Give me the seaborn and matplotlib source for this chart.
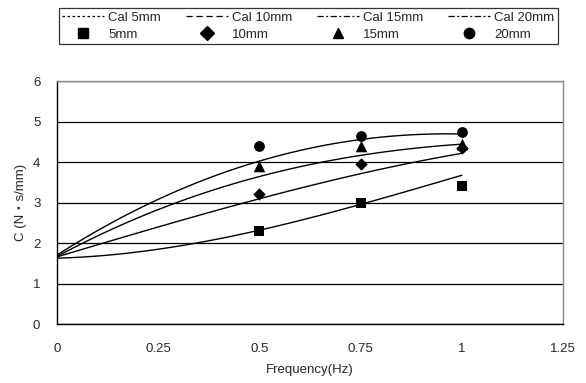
import matplotlib
matplotlib.use("Agg")
import matplotlib.pyplot as plt
from matplotlib.lines import Line2D
import seaborn as sns
import pandas as pd

# measured damping coefficient
freq = [0.5, 0.75, 1.0]
c_5mm = [2.3, 3.0, 3.4]
c_10mm = [3.2, 3.95, 4.35]
c_15mm = [3.9, 4.4, 4.45]
c_20mm = [4.4, 4.65, 4.75]

# calculated curves
cal_freq = [0, 0.125, 0.25, 0.375, 0.5, 0.625, 0.75, 0.875, 1.0]
cal_5mm = [1.62, 1.71, 1.85, 2.05, 2.31, 2.62, 2.96, 3.31, 3.67]
cal_10mm = [1.66, 2.03, 2.39, 2.75, 3.10, 3.42, 3.71, 3.97, 4.22]
cal_15mm = [1.68, 2.27, 2.82, 3.28, 3.66, 3.94, 4.15, 4.32, 4.45]
cal_20mm = [1.70, 2.45, 3.08, 3.60, 4.02, 4.34, 4.56, 4.67, 4.69]

labels = ["5mm", "10mm", "15mm", "20mm"]
measured = [c_5mm, c_10mm, c_15mm, c_20mm]
calculated = [cal_5mm, cal_10mm, cal_15mm, cal_20mm]
markers = ["s", "D", "^", "o"]
msizes = [60, 40, 70, 60]
legend_styles = [(0, (2, 2)), (0, (5, 3)), (0, (5, 2, 1.5, 2)), (0, (5, 2, 1.5, 2))]

sns.set_style("white")
plt.rcParams["font.family"] = ["Liberation Sans", "Noto Sans CJK JP", "DejaVu Sans"]

fig = plt.figure(figsize=(5.86, 3.83), dpi=100)
ax = fig.add_axes([0.0973, 0.154, 0.8635, 0.6345])

# smooth trend curves (cubic fit through the read points)
for lab, cal in zip(labels, calculated):
    sns.regplot(x=cal_freq, y=cal, ax=ax, order=3, ci=None, scatter=False,
                truncate=True, line_kws={"color": "black", "lw": 1.0})

for lab, vals, m, s in zip(labels, measured, markers, msizes):
    df = pd.DataFrame({"f": freq, "c": vals})
    sns.scatterplot(data=df, x="f", y="c", ax=ax, marker=m, s=s, color="black",
                    edgecolor="black", linewidth=0, zorder=5, legend=False)

ax.set_xlim(0, 1.25)
ax.set_ylim(0, 6)
ax.set_xticks([0, 0.25, 0.5, 0.75, 1.0, 1.25])
ax.set_xticklabels(["0", "0.25", "0.5", "0.75", "1", "1.25"])
ax.set_yticks(range(0, 7))
ax.tick_params(axis="x", direction="in", length=5, width=0.8, color="black",
               labelsize=9.5, pad=14)
ax.tick_params(axis="y", length=0, labelsize=9.5, pad=12)
ax.yaxis.grid(True, color="black", lw=0.9)
ax.xaxis.grid(False)
for side in ["left", "bottom"]:
    ax.spines[side].set_color("black")
    ax.spines[side].set_linewidth(1.0)
for side in ["top", "right"]:
    ax.spines[side].set_color("#888888")
    ax.spines[side].set_linewidth(1.0)

ax.set_xlabel("Frequency(Hz)", fontsize=9.5, labelpad=6)
ax.set_ylabel("C (N・s/mm)", fontsize=9.5, labelpad=4)

handles = []
for lab, ls, m in zip(labels, legend_styles, markers):
    handles.append(Line2D([], [], color="black", lw=0.9, linestyle=ls, label="Cal " + lab))
    handles.append(Line2D([], [], color="black", lw=0, marker=m, markersize=7.5, label=lab))

leg = fig.legend(handles=handles, loc="lower left", ncol=4, mode="expand",
                 bbox_to_anchor=(0.100, 0.885, 0.852, 0.097), borderaxespad=0,
                 fontsize=9.5, handlelength=3.2, handletextpad=0.3,
                 frameon=True, fancybox=False, edgecolor="black",
                 borderpad=0.25, labelspacing=0.35)
leg.get_frame().set_linewidth(0.9)

fig.savefig("out.png", dpi=100)
